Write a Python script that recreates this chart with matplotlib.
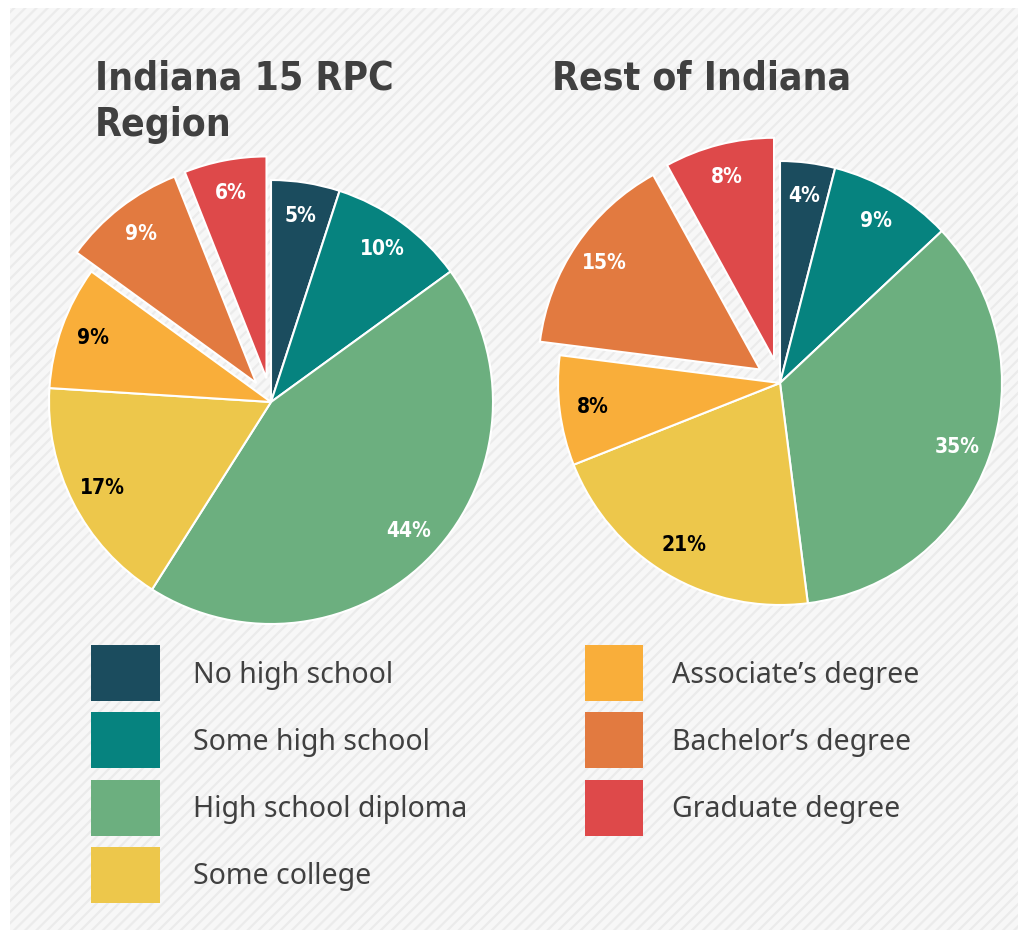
import matplotlib
matplotlib.use("Agg")
import matplotlib.pyplot as plt
from matplotlib.patches import Rectangle

# education attainment shares (%), clockwise from 12 o'clock
categories = ["No high school", "Some high school", "High school diploma",
              "Some college", "Associate\u2019s degree", "Bachelor\u2019s degree",
              "Graduate degree"]
region_vals = [5, 10, 44, 17, 9, 9, 6]
rest_vals = [4, 9, 35, 21, 8, 15, 8]
titles = ["Indiana 15 RPC\nRegion", "Rest of Indiana"]

colors = ["#1b4c5e", "#06837f", "#6caf7f", "#edc74b", "#f9ae3a", "#e27a40", "#de494a"]
label_colors = ["white", "white", "white", "black", "black", "white", "white"]
explode = [0, 0, 0, 0, 0, 24, 24]

W, H = 1018, 930
title_font = ["Liberation Sans Narrow", "DejaVu Sans"]
body_font = ["Noto Sans", "DejaVu Sans"]
gray = "#404040"

fig = plt.figure(figsize=(W / 100, H / 100), dpi=100)
fig.patch.set_facecolor("white")
ax = fig.add_axes([0, 0, 1, 1])

# hatched light background
plt.rcParams["hatch.linewidth"] = 1.6
ax.add_patch(Rectangle((10, 0), W - 10, H - 8, facecolor="#f7f7f7",
                       edgecolor="#ebebeb", hatch="///", linewidth=0, zorder=0))

centers = [(271, H - 402), (780, H - 383)]
R = 222
for vals, c in zip([region_vals, rest_vals], centers):
    wedges, texts, autotexts = ax.pie(
        vals, colors=colors, explode=explode, startangle=90, counterclock=False,
        center=c, radius=R, autopct="%d%%", pctdistance=0.85, frame=True,
        wedgeprops=dict(edgecolor="white", linewidth=1.5))
    for t, col in zip(autotexts, label_colors):
        t.set_color(col)
        t.set_fontsize(15)
        t.set_fontweight("bold")
        t.set_family(title_font)
        t.set_fontstretch("condensed")

ax.text(95, H - 60, titles[0], fontsize=28, fontweight="bold", color=gray,
        family=title_font, fontstretch="condensed", va="top", ha="left",
        linespacing=1.27)
ax.text(552, H - 60, titles[1], fontsize=28, fontweight="bold", color=gray,
        family=title_font, fontstretch="condensed", va="top", ha="left")

# legend
for i, (cat, col) in enumerate(zip(categories, colors)):
    if i < 4:
        x0, w, tx, row = 91, 69, 193, i
    else:
        x0, w, tx, row = 585, 58, 672, i - 4
    ytop = 645 + row * 67.3
    ax.add_patch(Rectangle((x0, H - ytop - 56), w, 56, facecolor=col,
                           edgecolor="none", zorder=2))
    ax.text(tx, H - ytop - 30, cat, fontsize=20.5, color=gray, family=body_font,
            va="center", ha="left")

ax.set_xlim(0, W)
ax.set_ylim(0, H)
ax.set_aspect("auto")
ax.axis("off")

fig.savefig("out.png", dpi=100, facecolor="white")
